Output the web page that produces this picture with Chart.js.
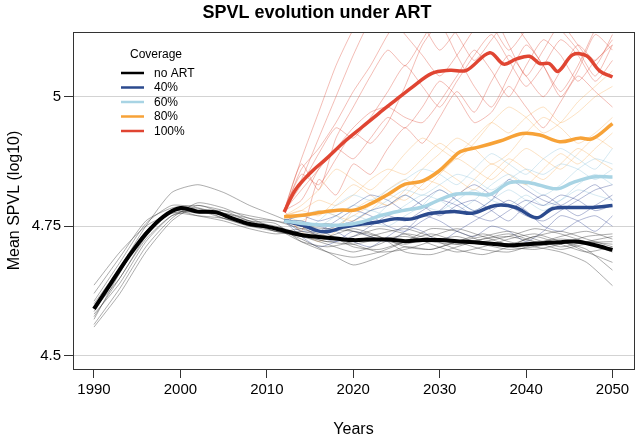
<!DOCTYPE html>
<html>
<head>
<meta charset="utf-8">
<script src="https://cdn.jsdelivr.net/npm/chart.js@4"></script>
<style>
  body { margin: 0; background: #fff; }
  canvas { display: block; }
</style>
</head>
<body>
<canvas id="grafico" width="640" height="441"></canvas>
<script>
// ---- data ----
const xTicks = [1990, 2000, 2010, 2020, 2030, 2040, 2050];
const yTicks = [4.5, 4.75, 5];

// thick mean lines
const noArtYears = [1990,1992,1994,1996,1998,2000,2002,2004,2006,2008,2010,2012,2014,2016,2018,2020,2022,2024,2026,2028,2030,2032,2034,2036,2038,2040,2042,2044,2046,2048,2050];
const noArtMean  = [4.590,4.641,4.691,4.735,4.768,4.785,4.778,4.777,4.765,4.754,4.749,4.741,4.733,4.729,4.726,4.723,4.724,4.724,4.721,4.723,4.723,4.721,4.719,4.716,4.713,4.715,4.717,4.719,4.720,4.713,4.704];

const cov40Years = [2012,2014.1,2016.6,2019.1,2021,2022.9,2024.8,2026.8,2028.7,2030.5,2031.9,2033.8,2036.5,2038.8,2041.2,2043.1,2045.4,2047.7,2050];
const cov40Mean  = [4.761,4.752,4.739,4.749,4.754,4.758,4.764,4.764,4.774,4.777,4.778,4.775,4.790,4.786,4.766,4.784,4.786,4.786,4.790];

const cov60Years = [2012,2014.1,2016.4,2018.7,2021,2023.3,2025.7,2028,2030.3,2031.9,2033.8,2035.8,2038.1,2040.4,2043.5,2045.4,2047.7,2050];
const cov60Mean  = [4.760,4.755,4.752,4.752,4.758,4.771,4.780,4.787,4.803,4.812,4.813,4.811,4.834,4.834,4.822,4.834,4.845,4.845];

const cov80Years = [2012,2014.1,2016.4,2018.7,2020.2,2022.1,2024.1,2026,2028,2029.9,2031.3,2032.4,2034.6,2036.9,2039.6,2041.6,2043.9,2046.2,2047.7,2050];
const cov80Mean  = [4.768,4.771,4.777,4.781,4.781,4.794,4.812,4.831,4.837,4.856,4.878,4.894,4.903,4.914,4.929,4.926,4.913,4.920,4.919,4.948];

const cov100Years = [2012,2013.3,2015.3,2016.8,2019.1,2021,2022.9,2024.8,2026.8,2029.1,2031.2,2033.1,2035.8,2037.4,2038.9,2040.4,2041.6,2042.7,2043.7,2045.4,2047,2048.5,2050];
const cov100Mean  = [4.777,4.820,4.857,4.879,4.915,4.941,4.967,4.992,5.018,5.045,5.051,5.051,5.085,5.063,5.073,5.078,5.064,5.064,5.049,5.081,5.079,5.050,5.038];

// thin individual runs
const runYearsNoArt = [1990,1993,1996,1999,2002,2005,2008,2011,2014,2017,2020,2023,2026,2029,2032,2035,2038,2041,2044,2047,2050];
const runsNoArt = [
  [4.636,4.70,4.75,4.775,4.78,4.765,4.755,4.74,4.73,4.72,4.715,4.725,4.73,4.72,4.715,4.725,4.73,4.72,4.725,4.72,4.715],
  [4.60,4.67,4.75,4.815,4.83,4.815,4.79,4.77,4.75,4.745,4.74,4.73,4.71,4.705,4.72,4.73,4.74,4.725,4.71,4.72,4.73],
  [4.58,4.64,4.72,4.77,4.785,4.77,4.76,4.755,4.72,4.70,4.69,4.70,4.72,4.745,4.74,4.72,4.71,4.705,4.715,4.73,4.735],
  [4.555,4.62,4.70,4.76,4.79,4.775,4.765,4.745,4.725,4.70,4.675,4.69,4.71,4.705,4.72,4.735,4.72,4.71,4.70,4.68,4.635],
  [4.57,4.66,4.74,4.78,4.775,4.775,4.76,4.74,4.745,4.755,4.74,4.725,4.715,4.73,4.745,4.73,4.715,4.73,4.74,4.725,4.71],
  [4.62,4.69,4.76,4.785,4.79,4.78,4.76,4.75,4.735,4.72,4.73,4.745,4.735,4.715,4.70,4.71,4.725,4.735,4.72,4.705,4.665],
  [4.56,4.63,4.71,4.765,4.795,4.785,4.765,4.76,4.75,4.735,4.71,4.705,4.72,4.735,4.72,4.705,4.70,4.715,4.73,4.74,4.725],
  [4.59,4.65,4.73,4.78,4.77,4.76,4.745,4.735,4.74,4.73,4.745,4.73,4.70,4.695,4.71,4.725,4.735,4.72,4.705,4.715,4.70],
  [4.605,4.68,4.755,4.79,4.785,4.765,4.75,4.745,4.72,4.71,4.72,4.735,4.745,4.73,4.715,4.72,4.73,4.745,4.735,4.72,4.72],
  [4.575,4.65,4.725,4.77,4.78,4.78,4.77,4.76,4.745,4.73,4.715,4.70,4.705,4.72,4.73,4.715,4.705,4.71,4.72,4.70,4.68],
  [4.585,4.66,4.74,4.775,4.77,4.765,4.75,4.74,4.73,4.715,4.70,4.715,4.735,4.725,4.705,4.695,4.71,4.73,4.715,4.70,4.71]
];

const runYearsArt = [2012,2014,2016,2018,2020,2022,2024,2026,2028,2030,2032,2034,2036,2038,2040,2042,2044,2046,2048,2050];
const runs40 = [
  [4.76,4.75,4.73,4.72,4.73,4.75,4.77,4.76,4.78,4.80,4.79,4.77,4.76,4.78,4.80,4.79,4.81,4.80,4.78,4.79],
  [4.76,4.74,4.74,4.76,4.78,4.77,4.75,4.74,4.76,4.78,4.81,4.83,4.81,4.79,4.77,4.76,4.78,4.80,4.82,4.83],
  [4.76,4.76,4.75,4.74,4.72,4.71,4.73,4.75,4.74,4.72,4.74,4.76,4.78,4.80,4.78,4.75,4.74,4.76,4.77,4.75],
  [4.76,4.77,4.76,4.77,4.79,4.81,4.80,4.78,4.80,4.82,4.80,4.78,4.80,4.84,4.82,4.80,4.79,4.81,4.83,4.80],
  [4.76,4.73,4.71,4.72,4.74,4.73,4.72,4.74,4.77,4.76,4.74,4.73,4.75,4.74,4.72,4.74,4.77,4.76,4.74,4.77],
  [4.76,4.75,4.74,4.75,4.76,4.78,4.79,4.81,4.79,4.77,4.79,4.80,4.78,4.76,4.79,4.81,4.79,4.77,4.79,4.81]
];
const runs60 = [
  [4.76,4.76,4.75,4.77,4.79,4.78,4.80,4.82,4.81,4.83,4.85,4.84,4.82,4.84,4.86,4.85,4.87,4.86,4.84,4.86],
  [4.76,4.75,4.74,4.74,4.76,4.78,4.77,4.79,4.81,4.80,4.78,4.80,4.83,4.85,4.83,4.81,4.83,4.86,4.88,4.87],
  [4.76,4.77,4.78,4.77,4.75,4.76,4.79,4.81,4.79,4.78,4.80,4.82,4.80,4.79,4.81,4.79,4.80,4.82,4.81,4.80],
  [4.76,4.74,4.76,4.79,4.81,4.80,4.82,4.84,4.86,4.85,4.83,4.86,4.89,4.87,4.85,4.88,4.90,4.88,4.86,4.90],
  [4.76,4.76,4.74,4.75,4.77,4.76,4.75,4.77,4.79,4.82,4.80,4.78,4.80,4.82,4.80,4.78,4.80,4.83,4.85,4.83]
];
const runs80 = [
  [4.77,4.78,4.80,4.79,4.81,4.84,4.86,4.85,4.88,4.91,4.89,4.92,4.95,4.93,4.96,4.98,4.95,4.97,5.00,5.02],
  [4.77,4.75,4.73,4.75,4.77,4.79,4.82,4.84,4.82,4.85,4.88,4.86,4.84,4.87,4.90,4.88,4.86,4.89,4.92,4.90],
  [4.77,4.79,4.82,4.86,4.84,4.82,4.85,4.89,4.92,4.90,4.88,4.91,4.95,4.98,4.96,4.93,4.95,4.99,5.02,5.05],
  [4.77,4.76,4.78,4.77,4.76,4.78,4.81,4.80,4.83,4.86,4.84,4.82,4.85,4.88,4.86,4.84,4.87,4.90,4.88,4.86],
  [4.77,4.78,4.77,4.80,4.83,4.81,4.79,4.82,4.86,4.89,4.92,4.90,4.87,4.89,4.93,4.96,4.94,4.91,4.93,4.96],
  [4.77,4.74,4.72,4.74,4.78,4.80,4.79,4.81,4.84,4.83,4.81,4.84,4.87,4.85,4.83,4.86,4.89,4.87,4.90,4.93]
];
const runs100 = [
  [4.78,4.84,4.92,5.00,5.08,5.15,5.20,5.18,5.15,5.20,5.22,5.18,5.15,5.20,5.18,5.15,5.19,5.22,5.18,5.15],
  [4.78,4.82,4.86,4.90,4.94,4.97,4.98,4.96,4.95,4.99,5.04,5.09,5.05,5.00,5.06,5.11,5.08,5.03,5.07,5.10],
  [4.78,4.85,4.83,4.88,4.93,4.91,4.95,5.02,5.10,5.14,5.08,5.02,4.98,5.04,5.10,5.06,5.00,5.05,5.12,5.09],
  [4.78,4.80,4.86,4.90,4.88,4.92,4.96,4.94,4.98,5.03,5.00,4.95,4.97,5.02,4.98,4.94,4.99,5.04,5.01,4.98],
  [4.78,4.88,4.97,5.06,5.13,5.18,5.16,5.12,5.08,5.04,5.08,5.13,5.16,5.10,5.04,5.09,5.14,5.10,5.06,5.12],
  [4.78,4.83,4.89,4.94,4.92,4.96,5.01,5.06,5.02,4.98,5.03,5.08,5.12,5.07,5.02,5.06,5.11,5.08,5.03,5.07],
  [4.78,4.86,4.90,4.95,5.01,5.06,5.12,5.17,5.14,5.09,5.13,5.18,5.14,5.09,5.13,5.17,5.13,5.09,5.04,5.10],
  [4.78,4.74,4.84,4.81,4.87,4.85,4.90,4.94,4.91,4.96,5.01,4.97,5.03,5.08,5.04,5.00,5.05,5.10,5.07,5.11],
  [4.78,4.87,4.82,4.92,4.98,5.04,5.09,5.06,5.11,5.16,5.12,5.07,5.11,5.15,5.11,5.06,5.01,5.06,5.13,5.18]
];

const FONT = "'Liberation Sans', Arial, Helvetica, sans-serif";

function pontos(anos, valores) {
    return anos.map((a, i) => ({ x: a, y: valores[i] }));
}

function media(label, anos, valores, cor, largura, ordem) {
    return {
        label: label,
        data: pontos(anos, valores),
        borderColor: cor,
        borderWidth: largura,
        pointRadius: 0,
        tension: 0.35,
        order: ordem,
        isMean: true
    };
}

function corrida(anos, valores, cor) {
    return {
        label: '',
        data: pontos(anos, valores),
        borderColor: cor,
        borderWidth: 0.8,
        pointRadius: 0,
        tension: 0.2,
        order: 10
    };
}

const datasets = [];
runsNoArt.forEach(r => datasets.push(corrida(runYearsNoArt, r, 'rgba(50,50,50,0.5)')));
runs40.forEach(r => datasets.push(corrida(runYearsArt, r, 'rgba(40,60,140,0.45)')));
runs60.forEach(r => datasets.push(corrida(runYearsArt, r, 'rgba(150,200,222,0.5)')));
runs80.forEach(r => datasets.push(corrida(runYearsArt, r, 'rgba(247,165,70,0.4)')));
runs100.forEach(r => datasets.push(corrida(runYearsArt, r, 'rgba(222,70,50,0.45)')));

datasets.push(media('no ART', noArtYears, noArtMean, '#000000', 4, 4));
datasets.push(media('40%', cov40Years, cov40Mean, '#2b4a8e', 3.5, 3));
datasets.push(media('60%', cov60Years, cov60Mean, '#a8d4e4', 3.5, 2));
datasets.push(media('80%', cov80Years, cov80Mean, '#f7a237', 3.5, 1));
datasets.push(media('100%', cov100Years, cov100Mean, '#e04532', 3.5, 0));

// caixa em volta da área do gráfico
const caixa = {
    id: 'caixa',
    beforeDraw(chart) {
        const c = chart.ctx;
        c.save();
        c.fillStyle = '#ffffff';
        c.fillRect(0, 0, chart.width, chart.height);
        c.restore();
    },
    afterDraw(chart) {
        const a = chart.chartArea;
        const c = chart.ctx;
        c.save();
        c.strokeStyle = '#333333';
        c.lineWidth = 1;
        c.strokeRect(Math.round(a.left) + 0.5, Math.round(a.top) + 0.5,
                     Math.round(a.right - a.left), Math.round(a.bottom - a.top));
        c.restore();
    }
};

// legenda dentro do gráfico, canto superior esquerdo
const legenda = {
    id: 'legenda',
    afterDraw(chart) {
        const c = chart.ctx;
        const itens = chart.data.datasets.filter(d => d.isMean);
        c.save();
        c.font = '12px ' + FONT;
        c.fillStyle = '#000';
        c.textBaseline = 'middle';
        c.textAlign = 'center';
        c.fillText('Coverage', 156, 55);
        c.textAlign = 'left';
        itens.forEach((d, i) => {
            const y = 73 + i * 14.5;
            c.strokeStyle = d.borderColor;
            c.lineWidth = 2.5;
            c.beginPath();
            c.moveTo(121, y);
            c.lineTo(144, y);
            c.stroke();
            c.fillText(d.label, 154, y + 0.5);
        });
        c.restore();
    }
};

new Chart(document.getElementById('grafico'), {
    type: 'line',
    data: { datasets: datasets },
    plugins: [caixa, legenda],
    options: {
        responsive: false,
        animation: false,
        devicePixelRatio: 1,
        layout: { padding: { left: 0, right: 6, top: 0, bottom: 0 } },
        plugins: {
            legend: { display: false },
            tooltip: { enabled: false },
            title: {
                display: true,
                text: 'SPVL evolution under ART',
                color: '#000',
                font: { family: FONT, size: 18, weight: 'bold' },
                padding: { top: 2, bottom: 8.4 }
            }
        },
        scales: {
            x: {
                type: 'linear',
                min: 1987.57,
                max: 2052.49,
                afterBuildTicks: (eixo) => { eixo.ticks = xTicks.map(v => ({ value: v })); },
                afterFit: (eixo) => { eixo.height = 72; },
                ticks: {
                    color: '#000',
                    font: { family: FONT, size: 15 },
                    padding: 3,
                    maxRotation: 0,
                    autoSkip: false,
                    callback: (v) => String(v)
                },
                grid: { drawOnChartArea: false, tickLength: 9, tickColor: '#333' },
                border: { display: true, color: '#333', width: 1 },
                title: {
                    display: true,
                    text: 'Years',
                    color: '#000',
                    font: { family: FONT, size: 16 },
                    padding: { top: 0, bottom: 2 }
                }
            },
            y: {
                type: 'linear',
                min: 4.474,
                max: 5.125,
                afterBuildTicks: (eixo) => { eixo.ticks = yTicks.map(v => ({ value: v })); },
                afterFit: (eixo) => { eixo.width = 73; },
                ticks: {
                    color: '#000',
                    font: { family: FONT, size: 15 },
                    padding: 3,
                    autoSkip: false,
                    callback: (v) => String(v)
                },
                grid: { color: '#d3d3d3', lineWidth: 1, tickLength: 9, tickColor: '#333' },
                border: { display: true, color: '#333', width: 1 },
                title: {
                    display: true,
                    text: 'Mean SPVL (log10)',
                    color: '#000',
                    font: { family: FONT, size: 16 },
                    padding: { top: 5, bottom: 0 }
                }
            }
        }
    }
});
</script>
</body>
</html>
